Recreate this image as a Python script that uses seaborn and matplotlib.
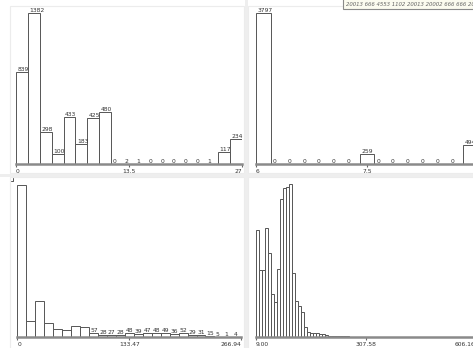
import matplotlib
matplotlib.use("Agg")
import matplotlib.pyplot as plt
from matplotlib.patches import Rectangle
import seaborn as sns
import numpy as np
import pandas as pd

W, H = 473, 348

# ---- data (bin ranges + counts) ----
tl_range = (0, 27)
tl_counts = [839, 1382, 298, 100, 433, 183, 425, 480, 0, 2, 1, 0, 0, 0, 0, 0, 1, 117, 234]
tl_ticks = [0, 13.5, 27]
tl_ticklabels = ["0", "13.5", "27"]

tr_range = (6, 9)
tr_counts = [3797, 0, 0, 0, 0, 0, 0, 259, 0, 0, 0, 0, 0, 0, 494]
tr_ticks = [6, 7.5, 9]
tr_ticklabels = ["6", "7.5", "9"]

bl_range = (0, 266.94)
bl_counts = [2030, 213, 481, 183, 102, 89, 146, 130, 57, 28, 27, 28, 48, 39, 47,
             48, 49, 36, 52, 29, 31, 15, 5, 1, 4]
bl_ticks = [0, 133.47, 266.94]
bl_ticklabels = ["0", "133.47", "266.94"]

br_range = (9.00, 606.16)
br_counts = [320, 202, 202, 327, 252, 130, 105, 205, 412, 445, 448, 457, 192, 109,
             92, 75, 30, 14, 12, 11, 11, 10, 8, 5, 4, 4, 3, 3, 3, 2, 2, 1, 0, 0,
             0, 0, 0, 1, 1, 0, 1, 1, 0, 0, 0, 0, 0, 0, 0, 0, 0, 0, 0, 0, 0, 0,
             0, 0, 0, 0, 0, 0, 0, 0, 0, 0, 0, 0, 0, 0, 0, 0, 0]
br_ticks = [9.00, 307.58, 606.16]
br_ticklabels = ["9.00", "307.58", "606.16"]

banner_text = "20013 666 4553 1102 20013 20002 666 666 2001 6"

sns.set_theme(style="white")
plt.rcParams["font.family"] = ["DejaVu Sans"]

fig = plt.figure(figsize=(W / 100, H / 100), dpi=100)
fig.patch.set_facecolor("white")


def px_axes(x0, y0, x1, y1):
    return fig.add_axes([x0 / W, 1 - y1 / H, (x1 - x0) / W, (y1 - y0) / H])


def fig_rect(x0, y0, x1, y1, **kw):
    fig.add_artist(Rectangle((x0 / W, 1 - y1 / H), (x1 - x0) / W, (y1 - y0) / H,
                             transform=fig.transFigure, **kw))


# panel frames and separators (behind the axes)
for (a, b, c, d) in [(10, 6, 244, 173), (248, 6, 480, 173),
                     (10, 177, 244, 352), (248, 177, 480, 352)]:
    fig_rect(a, b, c, d, fill=False, edgecolor="#ececec", linewidth=0.8, zorder=-2)
fig_rect(244.5, 0, 247.5, H, facecolor="#eeeeee", edgecolor="none", zorder=-1)
fig_rect(0, 174, W, 176.5, facecolor="#eeeeee", edgecolor="none", zorder=-1)


def hist_panel(box, rng, counts, ticks, ticklabels, label_max=None):
    ax = px_axes(*box)
    n = len(counts)
    edges = np.linspace(rng[0], rng[1], n + 1)
    df = pd.DataFrame({"x": (edges[:-1] + edges[1:]) / 2, "n": counts})
    sns.histplot(data=df, x="x", weights="n", bins=list(edges), ax=ax, stat="count",
                 color="white", edgecolor="#555555", linewidth=0.7, alpha=1)
    ax.set_xlim(rng)
    ax.set_ylim(0, max(counts))
    ax.set_xlabel("")
    ax.set_ylabel("")
    ax.set_facecolor("none")
    for s in ["top", "left", "right"]:
        ax.spines[s].set_visible(False)
    ax.spines["bottom"].set_color("#8a8a8a")
    ax.spines["bottom"].set_linewidth(1.8)
    ax.set_yticks([])
    ax.set_xticks(ticks)
    ax.set_xticklabels(ticklabels)
    ax.tick_params(axis="x", length=2.5, width=0.8, color="#666666", pad=1.0,
                   labelsize=4.3, labelcolor="#333333", bottom=True)
    labs = ax.get_xticklabels()
    labs[0].set_ha("left")
    labs[-1].set_ha("right")
    if label_max is not None:
        bw = edges[1] - edges[0]
        for left, c in zip(edges[:-1], counts):
            if c <= label_max:
                ax.text(left + 0.12 * bw, c, str(c), fontsize=4.3, color="#333333",
                        ha="left", va="bottom", clip_on=False)
    return ax


hist_panel((16, 12.7, 242, 164.5), tl_range, tl_counts, tl_ticks, tl_ticklabels,
           label_max=10 ** 9)
hist_panel((256, 12.7, 478, 164.5), tr_range, tr_counts, tr_ticks, tr_ticklabels,
           label_max=10 ** 9)
hist_panel((17.3, 185, 241.3, 337), bl_range, bl_counts, bl_ticks, bl_ticklabels,
           label_max=60)
hist_panel((256, 184.3, 475.4, 337), br_range, br_counts, br_ticks, br_ticklabels)

# small banner at the top right
fig_rect(343, -3, 476, 9, facecolor="#fbfbef", edgecolor="#8a8a8a", linewidth=0.8)
fig.text(345.5 / W, 1 - 4.5 / H, banner_text, fontsize=3.9, color="#666666",
         ha="left", va="center", style="italic")

# little corner mark on the lower-left panel
fig.add_artist(plt.Line2D([10.5 / W, 12.5 / W, 12.5 / W],
                          [1 - 181 / H, 1 - 181 / H, 1 - 177.5 / H],
                          transform=fig.transFigure, color="#555555", lw=0.7))

fig.savefig("out.png", dpi=100)
